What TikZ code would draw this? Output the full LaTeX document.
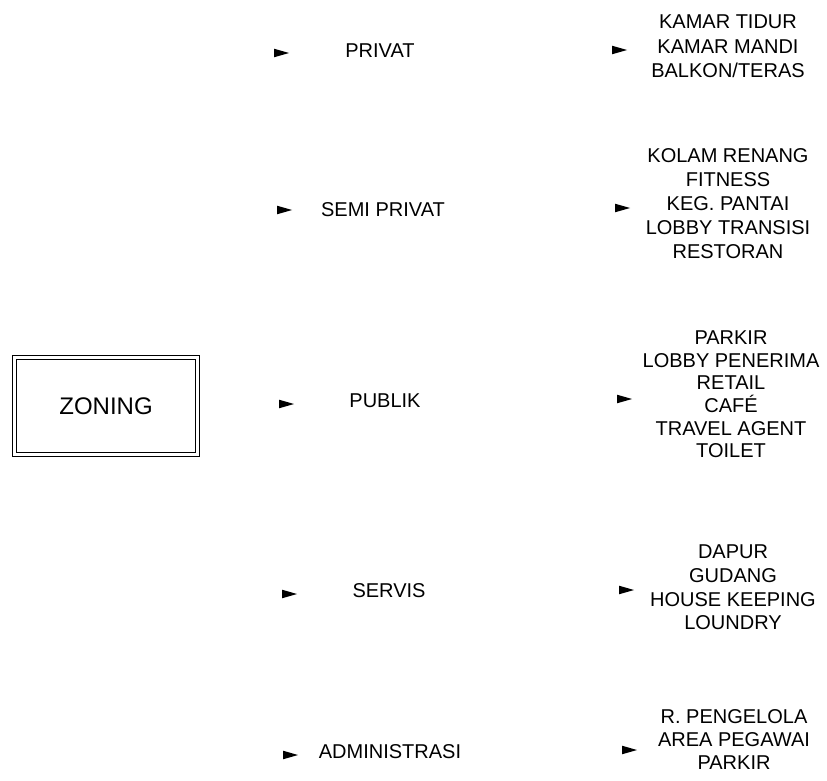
\documentclass[tikz,border=0pt]{standalone}
\usepackage{fontspec}
\setmainfont{Liberation Sans}
\begin{document}
\begin{tikzpicture}[x=1pt,y=-1pt,
  cat/.style={font=\fontsize{20}{24}\selectfont, inner sep=0pt, anchor=center},
  lst/.style={font=\fontsize{20}{#1}\selectfont, align=center, inner sep=0pt, anchor=center},
  zonebox/.style={draw=none, minimum width=186pt, minimum height=100pt,
     font=\fontsize{24}{28}\selectfont, inner sep=0pt},
  frame/.style={draw=black, line width=1pt},
  marker/.style={fill=black}
]
\useasboundingbox (0,0) rectangle (827,781);
\fill[white] (0,0) rectangle (827,781);

% main box with double frame
\node[zonebox] (zoning) at (106,406) {ZONING};
\draw[frame] (zoning.north west) rectangle (zoning.south east);
\draw[frame] ([shift={(3.5pt,-3.5pt)}]zoning.north west) rectangle ([shift={(-3.5pt,3.5pt)}]zoning.south east);

% categories
\node[cat] (privat) at (380,51) {PRIVAT};
\node[cat] (semi) at (383,210) {SEMI PRIVAT};
\node[cat] (publik) at (385,401) {PUBLIK};
\node[cat] (servis) at (389,591) {SERVIS};
\node[cat] (admin) at (390,752) {ADMINISTRASI};

% lists
\node[lst=24.5] (lprivat) at (728,46.5) {KAMAR TIDUR\\KAMAR MANDI\\BALKON/TERAS};
\node[lst=24] (lsemi) at (728,204) {KOLAM RENANG\\FITNESS\\KEG. PANTAI\\LOBBY TRANSISI\\RESTORAN};
\node[lst=22.6] (lpublik) at (731,394.5) {PARKIR\\LOBBY PENERIMA\\RETAIL\\CAF\'E\\TRAVEL AGENT\\TOILET};
\node[lst=23.7] (lservis) at (733,587.5) {DAPUR\\GUDANG\\HOUSE KEEPING\\LOUNDRY};
\node[lst=23] (ladmin) at (734,740) {R. PENGELOLA\\AREA PEGAWAI\\PARKIR};

% arrow markers (left column)
\coordinate (m1) at (274,53);
\coordinate (m2) at (277,210);
\coordinate (m3) at (279,404);
\coordinate (m4) at (282,594);
\coordinate (m5) at (283,755);
% arrow markers (right column)
\coordinate (n1) at (612,50);
\coordinate (n2) at (615,208);
\coordinate (n3) at (617,399);
\coordinate (n4) at (619,590);
\coordinate (n5) at (622,750);

\foreach \m in {m1,m2,m3,m4,m5,n1,n2,n3,n4,n5}{
  \fill[marker] (\m) ++(0,-4.3) -- ++(15,4.3) -- ++(-15,4.3) -- cycle;
}
\end{tikzpicture}
\end{document}
